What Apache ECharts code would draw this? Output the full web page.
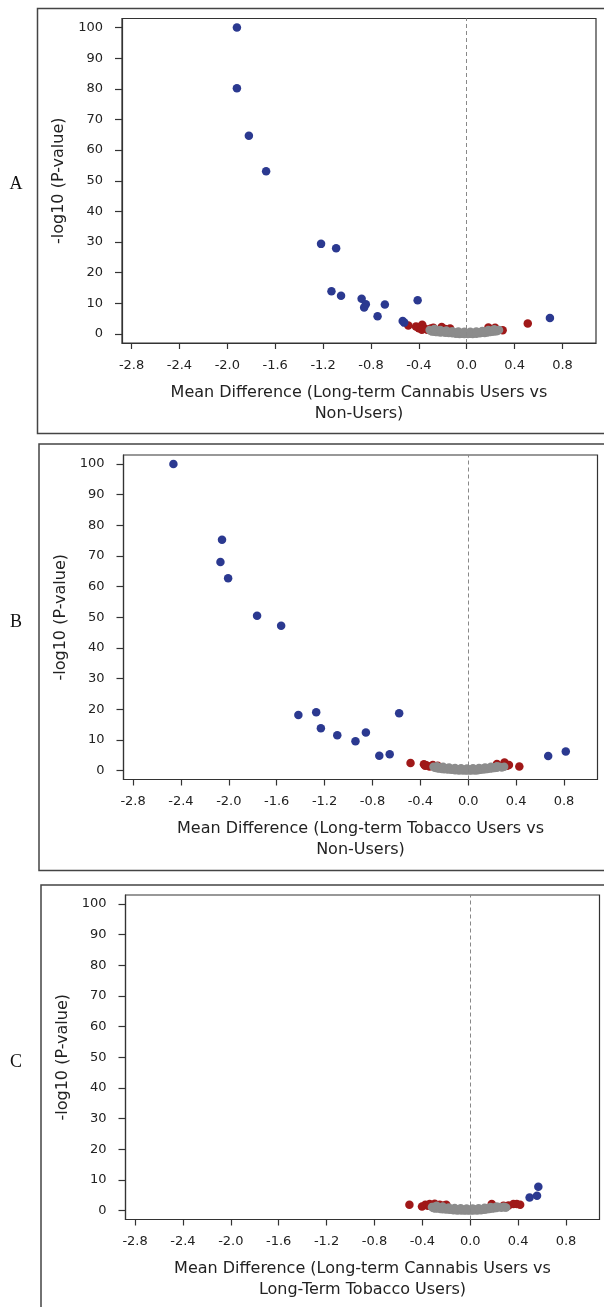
<!DOCTYPE html>
<html>
<head>
<meta charset="utf-8">
<script src="https://cdn.jsdelivr.net/npm/echarts@6.0.0/dist/echarts.min.js"></script>
<style>
  html, body { margin: 0; padding: 0; background: #fff; }
  #chart { width: 604px; height: 1307px; }
</style>
</head>
<body>
<div id="chart"></div>
<script>
// tick labels shared by all three panels
const xTicks = [-2.8, -2.4, -2.0, -1.6, -1.2, -0.8, -0.4, 0.0, 0.4, 0.8];
const yTicks = [0, 10, 20, 30, 40, 50, 60, 70, 80, 90, 100];

const panelLetters = ['A', 'B', 'C'];
const xTitles = [
    'Mean Difference (Long-term Cannabis Users vs\nNon-Users)',
    'Mean Difference (Long-term Tobacco Users vs\nNon-Users)',
    'Mean Difference (Long-term Cannabis Users vs\nLong-Term Tobacco Users)'
];
const yTitle = '-log10 (P-value)';

// panel A : cannabis vs non-users  [mean difference, -log10 p]
const aBlue = [
    [-1.92, 100.0], [-1.92, 80.2], [-1.82, 64.7], [-1.676, 53.1], [-1.217, 29.4],
    [-1.091, 28.0], [-1.13, 13.9], [-1.05, 12.5], [-0.878, 11.5], [-0.843, 9.7],
    [-0.857, 8.6], [-0.684, 9.6], [-0.745, 5.8], [-0.41, 11.0], [-0.535, 4.2],
    [-0.522, 3.7], [0.695, 5.2]
];
const aRed = [
    [-0.488, 2.8], [-0.424, 2.4], [-0.39, 2.2], [-0.372, 3.0], [-0.40, 1.9],
    [-0.35, 1.7], [-0.33, 1.4], [-0.375, 1.4], [-0.30, 1.8], [-0.279, 2.0],
    [-0.209, 2.3], [-0.18, 1.6], [-0.139, 1.8], [0.181, 2.1], [0.237, 2.0],
    [0.30, 1.2], [0.51, 3.4]
];
const aGray = [
    [-0.31, 1.3], [-0.30, 1.0], [-0.29, 0.8], [-0.28, 1.2], [-0.27, 0.7], [-0.26, 1.0],
    [-0.25, 0.6], [-0.24, 0.9], [-0.23, 1.1], [-0.22, 0.5], [-0.21, 0.8], [-0.20, 0.6],
    [-0.19, 0.9], [-0.18, 0.4], [-0.17, 0.7], [-0.16, 0.5], [-0.15, 0.3], [-0.14, 0.6],
    [-0.13, 0.4], [-0.12, 0.2], [-0.11, 0.5], [-0.10, 0.3], [-0.09, 0.1], [-0.08, 0.4],
    [-0.07, 0.2], [-0.06, 0.0], [-0.05, 0.3], [-0.04, 0.1], [-0.03, 0.2], [-0.02, 0.0],
    [-0.01, 0.3], [0.00, 0.1], [0.01, 0.0], [0.02, 0.2], [0.03, 0.1], [0.04, 0.3],
    [0.05, 0.0], [0.06, 0.2], [0.07, 0.4], [0.08, 0.1], [0.09, 0.3], [0.10, 0.5],
    [0.11, 0.2], [0.12, 0.6], [0.13, 0.4], [0.14, 0.7], [0.15, 0.3], [0.16, 0.8],
    [0.17, 0.5], [0.18, 0.9], [0.19, 0.6], [0.20, 1.0], [0.21, 0.7], [0.22, 1.1],
    [0.23, 0.8], [0.24, 1.2], [0.25, 0.9], [0.26, 1.1], [0.27, 1.3],
    [-0.27, 1.6], [-0.22, 1.3], [-0.17, 1.1], [-0.12, 0.9], [-0.07, 0.8], [-0.02, 0.7],
    [0.03, 0.7], [0.08, 0.8], [0.13, 1.0], [0.18, 1.3], [0.23, 1.5]
];

// panel B : tobacco vs non-users
const bBlue = [
    [-2.463, 100.0], [-2.057, 75.3], [-2.07, 68.0], [-2.006, 62.7], [-1.764, 50.5],
    [-1.563, 47.2], [-1.419, 18.1], [-1.27, 19.0], [-1.231, 13.8], [-1.094, 11.5],
    [-0.942, 9.5], [-0.855, 12.4], [-0.743, 4.8], [-0.656, 5.3], [-0.577, 18.7],
    [0.668, 4.7], [0.815, 6.2]
];
const bRed = [
    [-0.482, 2.4], [-0.37, 2.0], [-0.35, 1.7], [-0.324, 1.3], [-0.296, 1.8],
    [-0.36, 1.5], [-0.255, 1.5], [0.24, 2.1], [0.303, 2.6], [0.324, 1.5],
    [0.34, 1.8], [0.29, 1.2], [0.427, 1.3]
];
const bGray = [
    [-0.29, 1.2], [-0.28, 0.9], [-0.27, 1.1], [-0.26, 0.7], [-0.25, 1.0], [-0.24, 0.6],
    [-0.23, 0.9], [-0.22, 0.5], [-0.21, 0.8], [-0.20, 0.4], [-0.19, 0.7], [-0.18, 0.5],
    [-0.17, 0.3], [-0.16, 0.6], [-0.15, 0.4], [-0.14, 0.2], [-0.13, 0.5], [-0.12, 0.3],
    [-0.11, 0.1], [-0.10, 0.4], [-0.09, 0.2], [-0.08, 0.0], [-0.07, 0.3], [-0.06, 0.1],
    [-0.05, 0.2], [-0.04, 0.0], [-0.03, 0.2], [-0.02, 0.1], [-0.01, 0.0], [0.00, 0.2],
    [0.01, 0.1], [0.02, 0.0], [0.03, 0.3], [0.04, 0.1], [0.05, 0.2], [0.06, 0.0],
    [0.07, 0.3], [0.08, 0.1], [0.09, 0.4], [0.10, 0.2], [0.11, 0.5], [0.12, 0.3],
    [0.13, 0.6], [0.14, 0.4], [0.15, 0.7], [0.16, 0.5], [0.17, 0.8], [0.18, 0.6],
    [0.19, 0.9], [0.20, 0.7], [0.21, 1.0], [0.22, 0.8], [0.23, 1.1], [0.24, 0.9],
    [0.26, 1.2], [0.28, 1.0], [0.30, 1.2],
    [-0.26, 1.4], [-0.21, 1.2], [-0.16, 1.0], [-0.11, 0.8], [-0.06, 0.7], [-0.01, 0.6],
    [0.04, 0.7], [0.09, 0.8], [0.14, 1.0], [0.19, 1.2], [0.24, 1.4]
];

// panel C : cannabis vs tobacco
const cBlue = [
    [0.569, 7.7], [0.496, 4.2], [0.558, 4.8]
];
const cRed = [
    [-0.508, 1.9], [-0.403, 1.3], [-0.375, 1.9], [-0.355, 1.5], [-0.339, 2.1],
    [-0.297, 2.2], [-0.255, 1.9], [-0.22, 1.6], [-0.2, 1.9], [0.18, 2.1],
    [0.278, 1.5], [0.32, 1.6], [0.361, 2.1], [0.389, 2.1], [0.417, 1.9]
];
const cGray = [
    [-0.32, 1.1], [-0.31, 0.8], [-0.30, 1.2], [-0.29, 0.6], [-0.28, 0.9], [-0.27, 0.7],
    [-0.26, 1.0], [-0.25, 0.5], [-0.24, 0.8], [-0.23, 0.4], [-0.22, 0.7], [-0.21, 0.5],
    [-0.20, 0.3], [-0.19, 0.6], [-0.18, 0.4], [-0.17, 0.2], [-0.16, 0.5], [-0.15, 0.3],
    [-0.14, 0.1], [-0.13, 0.4], [-0.12, 0.2], [-0.11, 0.0], [-0.10, 0.3], [-0.09, 0.1],
    [-0.08, 0.2], [-0.07, 0.0], [-0.06, 0.2], [-0.05, 0.1], [-0.04, 0.0], [-0.03, 0.2],
    [-0.02, 0.1], [-0.01, 0.0], [0.00, 0.2], [0.01, 0.1], [0.02, 0.0], [0.03, 0.2],
    [0.04, 0.1], [0.05, 0.3], [0.06, 0.0], [0.07, 0.2], [0.08, 0.4], [0.09, 0.1],
    [0.10, 0.3], [0.11, 0.5], [0.12, 0.2], [0.13, 0.6], [0.14, 0.4], [0.15, 0.7],
    [0.16, 0.5], [0.17, 0.8], [0.18, 0.6], [0.19, 0.9], [0.20, 0.7], [0.21, 1.0],
    [0.22, 0.8], [0.24, 1.1], [0.26, 0.9], [0.28, 1.2], [0.30, 1.0],
    [-0.28, 1.5], [-0.23, 1.3], [-0.18, 1.0], [-0.13, 0.8], [-0.08, 0.7], [-0.03, 0.6],
    [0.02, 0.6], [0.07, 0.7], [0.12, 0.9], [0.17, 1.1], [0.22, 1.3], [0.29, 1.0]
];

const blueSets = [aBlue, bBlue, cBlue];
const redSets = [aRed, bRed, cRed];
const graySets = [aGray, bGray, cGray];

const BLUE = '#2b3990';
const RED = '#a01818';
const GRAY = '#8c8c8c';
const INK = '#222';
const FONT = '"DejaVu Sans", "Liberation Sans", sans-serif';

// plot boxes, pixels
const grids = [
    { left: 122, top: 18.5, width: 474, height: 324.5 },
    { left: 123.5, top: 455, width: 474, height: 324.5 },
    { left: 125.5, top: 895, width: 474, height: 324.5 }
];
// outer frames round each panel
const frames = [
    { x: 37.5, y: 8.5, width: 600, height: 425 },
    { x: 39, y: 444, width: 600, height: 426.5 },
    { x: 41, y: 885, width: 600, height: 440 }
];
const letterY = [184, 622, 1062];

const chart = echarts.init(document.getElementById('chart'), null, { renderer: 'canvas' });

const xAxes = [];
const yAxes = [];
const series = [];

grids.forEach((g, i) => {
    xAxes.push({
        gridIndex: i,
        type: 'value',
        min: -2.88,
        max: 1.08,
        name: xTitles[i],
        nameLocation: 'middle',
        nameGap: 39,
        nameTextStyle: { fontFamily: FONT, fontSize: 16, color: INK, lineHeight: 21 },
        axisLine: { show: true, onZero: false, lineStyle: { color: '#333', width: 1.2 } },
        axisTick: { show: true, customValues: xTicks, length: 6, lineStyle: { color: '#333', width: 1.2 } },
        axisLabel: {
            customValues: xTicks,
            formatter: (v) => v.toFixed(1),
            fontFamily: FONT,
            fontSize: 13,
            color: INK,
            margin: 16
        },
        splitLine: { show: false }
    });
    yAxes.push({
        gridIndex: i,
        type: 'value',
        min: -2.95,
        max: 102.95,
        name: yTitle,
        nameLocation: 'middle',
        nameGap: 50,
        nameTextStyle: { fontFamily: FONT, fontSize: 16, color: INK },
        axisLine: { show: true, onZero: false, lineStyle: { color: '#333', width: 1.2 } },
        axisTick: { show: true, customValues: yTicks, length: 7, lineStyle: { color: '#333', width: 1.2 } },
        axisLabel: {
            customValues: yTicks,
            fontFamily: FONT,
            fontSize: 13,
            color: INK,
            margin: 19
        },
        splitLine: { show: false }
    });

    series.push({
        type: 'scatter',
        xAxisIndex: i,
        yAxisIndex: i,
        data: redSets[i],
        symbolSize: 8.5,
        itemStyle: { color: RED, opacity: 1 },
        silent: true,
        markLine: {
            silent: true,
            symbol: 'none',
            label: { show: false },
            lineStyle: { color: '#888', width: 1, type: [4, 3] },
            data: [{ xAxis: 0 }]
        }
    });
    series.push({
        type: 'scatter',
        xAxisIndex: i,
        yAxisIndex: i,
        data: graySets[i],
        symbolSize: 8.5,
        itemStyle: { color: GRAY, opacity: 1 },
        silent: true
    });
    series.push({
        type: 'scatter',
        xAxisIndex: i,
        yAxisIndex: i,
        data: blueSets[i],
        symbolSize: 8.5,
        itemStyle: { color: BLUE, opacity: 1 },
        silent: true
    });
});

const graphics = [];
frames.forEach((f, i) => {
    graphics.push({
        type: 'rect',
        silent: true,
        shape: f,
        style: { fill: null, stroke: '#444', lineWidth: 1.5 }
    });
    graphics.push({
        type: 'text',
        silent: true,
        x: 16,
        y: letterY[i],
        style: {
            text: panelLetters[i],
            font: '18px "Liberation Serif", "Times New Roman", serif',
            fill: '#111',
            align: 'center',
            verticalAlign: 'middle'
        }
    });
});

chart.setOption({
    animation: false,
    backgroundColor: '#fff',
    grid: grids.map((g) => Object.assign({ show: true, borderColor: '#333', borderWidth: 1.2, backgroundColor: 'transparent' }, g)),
    xAxis: xAxes,
    yAxis: yAxes,
    series,
    graphic: graphics
});
</script>
</body>
</html>
